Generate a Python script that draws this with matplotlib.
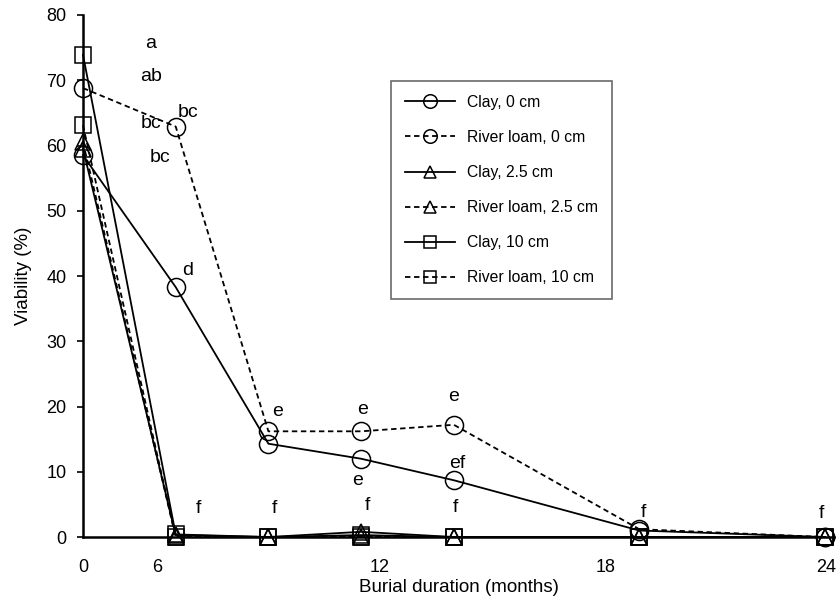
import matplotlib
matplotlib.use("Agg")
import matplotlib.pyplot as plt

plt.rcParams['font.family'] = ['Liberation Sans', 'DejaVu Sans']

# positions of the sampling dates along the x axis
x_pos = [0, 3, 6, 9, 12, 18, 24]

clay_0 = [58.5, 38.3, 14.3, 12.0, 8.7, 1.0, 0.0]
loam_0 = [68.8, 62.9, 16.2, 16.2, 17.2, 1.2, 0.0]
clay_25 = [59.5, 0.3, 0.0, 0.8, 0.0, 0.0, 0.0]
loam_25 = [60.5, 0.0, 0.0, 0.0, 0.0, 0.0, 0.0]
clay_10 = [73.9, 0.4, 0.0, 0.3, 0.0, 0.0, 0.0]
loam_10 = [63.1, 0.0, 0.0, 0.0, 0.0, 0.0, 0.0]

series_names = ["Clay, 0 cm", "River loam, 0 cm", "Clay, 2.5 cm",
                "River loam, 2.5 cm", "Clay, 10 cm", "River loam, 10 cm"]

# x tick labels as printed under the axis
xtick_pos = [0, 2.4, 9.6, 16.9, 24.05]
xtick_labels = ["0", "6", "12", "18", "24"]

# significance letters: (text, x, y)
letters = [("a", 2.2, 75.7), ("ab", 2.2, 70.5), ("bc", 2.2, 63.3),
           ("bc", 2.5, 58.2), ("bc", 3.4, 65.0), ("d", 3.4, 40.9),
           ("e", 6.3, 19.2), ("e", 9.05, 19.5), ("e", 12.0, 21.5),
           ("e", 8.9, 8.7), ("ef", 12.1, 11.3),
           ("f", 3.75, 4.4), ("f", 6.2, 4.4), ("f", 9.2, 4.9),
           ("f", 12.05, 4.6), ("f", 18.15, 3.8), ("f", 23.9, 3.6)]


def main():
    fig = plt.figure(figsize=(8.4, 6.12), dpi=100)
    ax = fig.add_axes([0.0988, 0.1225, 0.894, 0.853])

    all_series = [clay_0, loam_0, clay_25, loam_25, clay_10, loam_10]
    markers = ['o', 'o', '^', '^', 's', 's']
    sizes = [13, 13, 12, 12, 12, 12]
    for i, ys in enumerate(all_series):
        ls = '-' if i % 2 == 0 else (0, (3, 2))
        ax.plot(x_pos, ys, linestyle=ls, color='black', linewidth=1.3,
                marker=markers[i], markersize=sizes[i], markerfacecolor='none',
                markeredgecolor='black', markeredgewidth=1.1,
                label=series_names[i], clip_on=False, zorder=3)

    for txt, x, y in letters:
        ax.text(x, y, txt, fontsize=14, ha='center', va='center')

    ax.set_xlim(0, 24.3)
    ax.set_ylim(0, 80)
    ax.set_yticks(range(0, 81, 10))
    ax.set_xticks(xtick_pos)
    ax.set_xticklabels(xtick_labels)
    ax.set_xticks([0], minor=True)
    ax.tick_params(axis='x', which='major', length=0, pad=16, labelsize=13)
    ax.tick_params(axis='x', which='minor', length=5, width=1.2, direction='out')
    ax.tick_params(axis='y', length=4, width=1.2, pad=8, labelsize=13)

    for side in ['top', 'right']:
        ax.spines[side].set_visible(False)
    for side in ['left', 'bottom']:
        ax.spines[side].set_linewidth(1.8)

    ax.set_xlabel('Burial duration (months)', fontsize=13.5, labelpad=2)
    ax.set_ylabel('Viability (%)', fontsize=13.5, labelpad=10)

    leg = ax.legend(loc='upper left', bbox_to_anchor=(0.41, 0.874),
                    borderaxespad=0, fancybox=False, edgecolor='#444444',
                    fontsize=11.3, labelspacing=1.28, handlelength=3.2,
                    borderpad=0.9, handletextpad=0.75, markerscale=0.75)
    leg.get_frame().set_linewidth(1.2)

    fig.savefig('out.png', dpi=100)


if __name__ == '__main__':
    main()
